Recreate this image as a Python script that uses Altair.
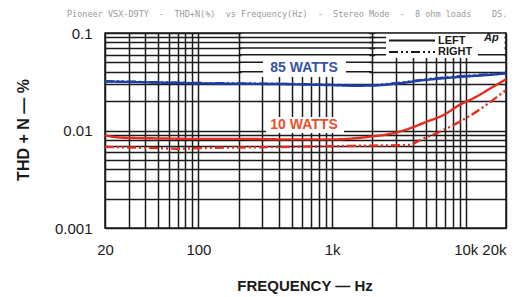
import altair as alt
import pandas as pd

# ---------------- data ----------------
blue_f = [20, 30, 50, 100, 200, 500, 1000, 1500, 2000, 3000, 5000, 7000, 10000, 15000, 20000]
blue_left = [0.0318, 0.0315, 0.0310, 0.0305, 0.0302, 0.0298, 0.0292, 0.0288, 0.0289, 0.0302, 0.0330, 0.0345, 0.0358, 0.0372, 0.0385]
blue_right = [0.0320, 0.0317, 0.0312, 0.0307, 0.0304, 0.0300, 0.0294, 0.0290, 0.0292, 0.0306, 0.0334, 0.0350, 0.0363, 0.0378, 0.0390]

red_l_f = [20, 25, 30, 50, 100, 200, 500, 1000, 1600, 2000, 2900, 3800, 5100, 6800, 9000, 12000, 16000, 20000]
red_left = [0.0089, 0.0085, 0.0084, 0.0083, 0.0082, 0.0082, 0.0081, 0.0081, 0.0084, 0.0087, 0.0094, 0.0105, 0.0123, 0.0144, 0.0183, 0.0222, 0.0281, 0.0335]
red_r_f = [20, 30, 50, 70, 100, 200, 500, 1000, 2000, 3800, 4500, 6800, 9000, 12000, 16000, 20000]
red_right = [0.0068, 0.0067, 0.0066, 0.0065, 0.0066, 0.0067, 0.0068, 0.0069, 0.0070, 0.0071, 0.0079, 0.0101, 0.0123, 0.0156, 0.0206, 0.0260]

x_grid = [20, 30, 40, 50, 60, 70, 80, 90, 100, 200, 300, 400, 500, 600, 700, 800, 900,
          1000, 2000, 3000, 4000, 5000, 6000, 7000, 8000, 9000, 10000, 20000]
y_grid = [0.001, 0.002, 0.003, 0.004, 0.005, 0.006, 0.007, 0.008, 0.009,
          0.01, 0.02, 0.03, 0.04, 0.05, 0.06, 0.07, 0.08, 0.09, 0.1]

header = "Pioneer VSX-D9TY  -  THD+N(%)  vs Frequency(Hz)  -  Stereo Mode  -  8 ohm loads".replace(" ", "\u00a0")

# ---------------- tables ----------------
rows = []
for f, v in zip(blue_f, blue_left):
    rows.append({"freq": f, "thd": v, "series": "85W-L", "ch": "LEFT"})
for f, v in zip(blue_f, blue_right):
    rows.append({"freq": f, "thd": v, "series": "85W-R", "ch": "RIGHT"})
for f, v in zip(red_l_f, red_left):
    rows.append({"freq": f, "thd": v, "series": "10W-L", "ch": "LEFT"})
for f, v in zip(red_r_f, red_right):
    rows.append({"freq": f, "thd": v, "series": "10W-R", "ch": "RIGHT"})
df = pd.DataFrame(rows)

BLUE = "#1f3fa0"
RED = "#e52b1e"
INK = "#1a1a1a"
FONT = "Liberation Sans"

xs = alt.Scale(type="log", domain=[20, 20000], nice=False)
ys = alt.Scale(type="log", domain=[0.001, 0.1], nice=False)

xaxis = alt.Axis(
    values=x_grid, grid=True, ticks=False, domain=False, labelOverlap=False, labelBound=False,
    labelExpr="datum.value == 20 ? '20' : datum.value == 100 ? '100' : datum.value == 1000 ? '1k' : datum.value == 10000 ? '10k' : datum.value == 20000 ? '20k' : ''",
    labelAlign={"condition": {"test": "datum.value == 20000", "value": "right"}, "value": "center"},
    labelPadding=14, labelFontSize=15, labelFont=FONT, labelColor=INK,
    gridColor=INK, gridWidth=1.5, title=None,
)
yaxis = alt.Axis(
    values=y_grid, grid=True, ticks=False, domain=False, labelOverlap=False, labelBound=False,
    labelExpr="datum.value == 0.1 ? '0.1' : datum.value == 0.01 ? '0.01' : datum.value == 0.001 ? '0.001' : ''",
    labelPadding=13, labelFontSize=15, labelFont=FONT, labelColor=INK,
    gridColor=INK, gridWidth=1.5, title=None,
)


def X(field="freq"):
    return alt.X(f"{field}:Q", scale=xs, axis=xaxis, title=None)


def Y(field="thd"):
    return alt.Y(f"{field}:Q", scale=ys, axis=yaxis, title=None)


one = pd.DataFrame({"k": [0]})

# areas where the original plot has no vertical grid lines (label zone and legend zone)
clear_df = pd.DataFrame({"freq": [210, 2100], "freq2": [1900, 19500], "thd": [0.0985, 0.0985], "thd2": [0.0354, 0.0554]})
clear = alt.Chart(clear_df).mark_rect(color="white").encode(
    x=X(), x2=alt.X2("freq2", title=None), y=Y(), y2=alt.Y2("thd2", title=None))

hl_df = pd.DataFrame({
    "thd": [0.09, 0.08, 0.07, 0.06, 0.05, 0.04, 0.09, 0.08, 0.07, 0.06],
    "freq": [200, 200, 200, 200, 200, 200, 2000, 2000, 2000, 2000],
    "freq2": [2000, 2000, 2000, 2000, 2000, 2000, 20000, 20000, 20000, 20000],
})
hlines = alt.Chart(hl_df).mark_rule(color=INK, strokeWidth=1.5).encode(
    x=X(), x2=alt.X2("freq2", title=None), y=Y())

# white boxes behind labels / legend
box85 = alt.Chart(one).mark_rect(color="white").encode(
    x=alt.value(158), x2=alt.value(241), y=alt.value(25), y2=alt.value(44))
box10 = alt.Chart(one).mark_rect(color="white").encode(
    x=alt.value(161), x2=alt.value(239), y=alt.value(84), y2=alt.value(100))
boxleg = alt.Chart(one).mark_rect(color="white").encode(
    x=alt.value(281), x2=alt.value(373), y=alt.value(1), y2=alt.value(25))
boxap = alt.Chart(one).mark_rect(color="white").encode(
    x=alt.value(373), x2=alt.value(399.5), y=alt.value(1), y2=alt.value(16))

lines = alt.Chart(df).mark_line(strokeWidth=2.4, interpolate="monotone").encode(
    x=X(), y=Y(),
    color=alt.Color("series:N", scale=alt.Scale(domain=["85W-L", "85W-R", "10W-L", "10W-R"],
                                                range=[BLUE, BLUE, RED, RED]), legend=None),
    strokeDash=alt.StrokeDash("ch:N", scale=alt.Scale(domain=["LEFT", "RIGHT"],
                                                       range=[[1, 0], [9, 3, 2, 3, 2, 3]]), legend=None),
    detail="series:N",
)

leg_left = alt.Chart(one).mark_rule(color=INK, strokeWidth=1.8).encode(
    x=alt.value(284), x2=alt.value(330), y=alt.value(7.5))
leg_right = alt.Chart(one).mark_rule(color=INK, strokeWidth=1.8, strokeDash=[9, 3, 2, 3, 2, 3]).encode(
    x=alt.value(284), x2=alt.value(330), y=alt.value(19))
leg_t1 = alt.Chart(one).mark_text(align="left", baseline="middle", font=FONT, fontSize=11,
                                  fontWeight="bold", color=INK).encode(
    x=alt.value(333), y=alt.value(7.5), text=alt.value("LEFT"))
leg_t2 = alt.Chart(one).mark_text(align="left", baseline="middle", font=FONT, fontSize=11,
                                  fontWeight="bold", color=INK).encode(
    x=alt.value(333), y=alt.value(19), text=alt.value("RIGHT"))
ap = alt.Chart(one).mark_text(align="left", baseline="middle", font=FONT, fontSize=11,
                              fontWeight="bold", fontStyle="italic", color=INK).encode(
    x=alt.value(379), y=alt.value(4.5), text=alt.value("Ap"))

t85 = alt.Chart(one).mark_text(align="center", baseline="middle", font=FONT, fontSize=14,
                               fontWeight="bold", color="#3552a3").encode(
    x=alt.value(199), y=alt.value(35), text=alt.value("85 WATTS"))
t10 = alt.Chart(one).mark_text(align="center", baseline="middle", font=FONT, fontSize=14,
                               fontWeight="bold", color="#e8502c").encode(
    x=alt.value(199), y=alt.value(92), text=alt.value("10 WATTS"))

head = alt.Chart(one).mark_text(align="left", baseline="middle", font="DejaVu Sans Mono",
                                fontSize=8.5, color="#9a9a9a").encode(
    x=alt.value(-38), y=alt.value(-19), text=alt.value(header))
ds = alt.Chart(one).mark_text(align="left", baseline="middle", font="DejaVu Sans Mono",
                              fontSize=8.5, color="#9a9a9a").encode(
    x=alt.value(387), y=alt.value(-19), text=alt.value("DS."))

ytitle = alt.Chart(one).mark_text(align="center", baseline="middle", font=FONT, fontSize=16,
                                  fontWeight="bold", color=INK, angle=270).encode(
    x=alt.value(-81), y=alt.value(97), text=alt.value("THD + N \u2014 %"))
xtitle = alt.Chart(one).mark_text(align="center", baseline="middle", font=FONT, fontSize=15,
                                  fontWeight="bold", color=INK).encode(
    x=alt.value(200), y=alt.value(253), text=alt.value("FREQUENCY \u2014 Hz"))

chart = alt.layer(
    clear, hlines, box85, box10, lines, boxleg, boxap,
    leg_left, leg_right, leg_t1, leg_t2, ap, t85, t10, head, ds, ytitle, xtitle,
).properties(
    width=401, height=195,
    autosize=alt.AutoSizeParams(type="none"),
    padding={"left": 97, "top": 25, "right": 14, "bottom": 67},
    background="white",
).configure_view(stroke=INK, strokeWidth=1.5)

chart.save("out.html", embed_options={"renderer": "svg", "actions": False})
